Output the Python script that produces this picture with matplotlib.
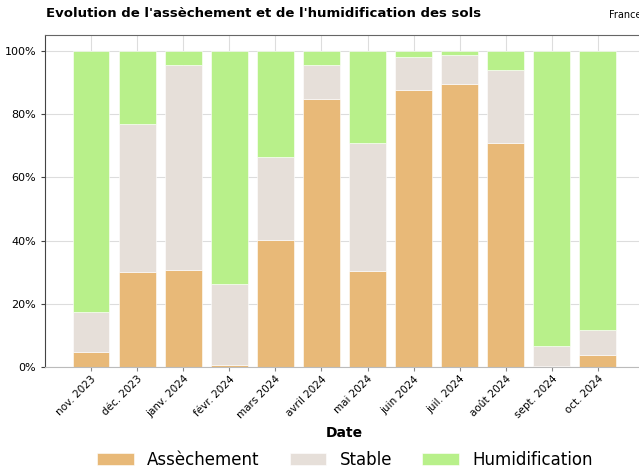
import matplotlib
matplotlib.use('Agg')
import matplotlib.pyplot as plt
import numpy as np
from matplotlib.ticker import PercentFormatter

# valeurs (fractions)
mois = ['nov. 2023', 'déc. 2023', 'janv. 2024', 'févr. 2024', 'mars 2024', 'avril 2024',
        'mai 2024', 'juin 2024', 'juil. 2024', 'août 2024', 'sept. 2024', 'oct. 2024']
assechement = [0.046, 0.300, 0.306, 0.005, 0.402, 0.846, 0.305, 0.876, 0.895, 0.707, 0.002, 0.039]
stable = [0.129, 0.467, 0.648, 0.257, 0.262, 0.110, 0.404, 0.104, 0.093, 0.232, 0.065, 0.079]
humidification = [1 - a - s for a, s in zip(assechement, stable)]

c_ass = '#E8B978'
c_stab = '#E6DFD9'
c_hum = '#B8F08A'

fig = plt.figure(figsize=(6.39, 4.72), dpi=100)
ax = fig.add_axes([0.0704, 0.2225, 0.9374, 0.7034])

x = np.arange(len(mois))
ax.bar(x, assechement, width=0.8, color=c_ass, edgecolor='white', linewidth=0.4, label='Assèchement', zorder=2)
ax.bar(x, stable, width=0.8, bottom=assechement, color=c_stab, edgecolor='white', linewidth=0.4, label='Stable', zorder=2)
bas = [a + s for a, s in zip(assechement, stable)]
ax.bar(x, humidification, width=0.8, bottom=bas, color=c_hum, edgecolor='white', linewidth=0.4, label='Humidification', zorder=2)

ax.set_xlim(-1, 12)
ax.set_ylim(0, 1.05)
ax.set_yticks([0, 0.2, 0.4, 0.6, 0.8, 1.0])
ax.yaxis.set_major_formatter(PercentFormatter(1.0, decimals=0))
ax.set_xticks(x)
ax.set_xticklabels(mois, rotation=45, ha='right', rotation_mode='anchor', fontsize=7.5)
ax.tick_params(axis='y', labelsize=8, length=3, color='#444444')
ax.tick_params(axis='x', length=3, pad=2, color='#888888')
ax.grid(True, color='#dddddd', linewidth=0.8, zorder=0)
ax.set_axisbelow(True)

ax.spines['right'].set_visible(False)
ax.spines['top'].set_color('#666666')
ax.spines['left'].set_color('#444444')
ax.spines['bottom'].set_color('#bbbbbb')

ax.set_xlabel('Date', fontsize=10, fontweight='bold', labelpad=4)

fig.text(0.072, 0.971, "Evolution de l'assèchement et de l'humidification des sols",
         fontsize=9.5, fontweight='bold', ha='left', va='center')
fig.text(0.953, 0.968, 'France', fontsize=7, ha='left', va='center')

fig.legend(loc='lower center', bbox_to_anchor=(0.54, -0.025), ncol=3, frameon=False,
           fontsize=12, handlelength=2.2, handleheight=0.8, columnspacing=1.8)

fig.savefig('out.png', dpi=100)
